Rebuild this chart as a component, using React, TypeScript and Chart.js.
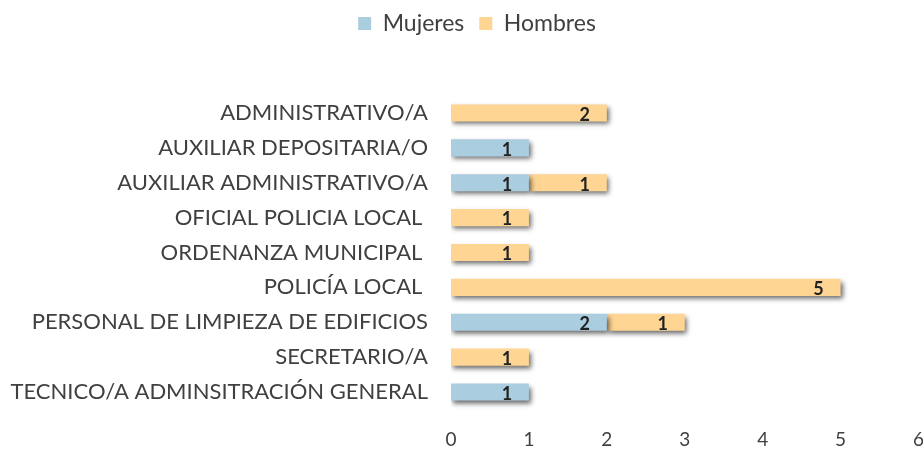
import React, { useEffect, useRef } from "react";
import { Chart, registerables } from "chart.js";

Chart.register(...registerables);

const categories = [
  "ADMINISTRATIVO/A",
  "AUXILIAR DEPOSITARIA/O",
  "AUXILIAR ADMINISTRATIVO/A",
  "OFICIAL POLICIA LOCAL ",
  "ORDENANZA MUNICIPAL ",
  "POLICÍA LOCAL ",
  "PERSONAL DE LIMPIEZA DE EDIFICIOS",
  "SECRETARIO/A",
  "TECNICO/A ADMINSITRACIÓN GENERAL",
];
const mujeres = [null, 1, 1, null, null, null, 2, null, 1];
const hombres = [2, null, 1, 1, 1, 5, 1, 1, null];
const xTicks = [0, 1, 2, 3, 4, 5, 6];

const FONT = "Lato, 'Open Sans', sans-serif";
const TEXT = "#404040";
const W = 943;
const H = 460;

const shadowPlugin = {
  id: "shadowAndLabels",
  beforeLayout(chart: any) {
    const lg = chart.legend;
    if (lg && !lg.__patched) {
      const orig = lg.fit;
      lg.fit = function () {
        orig.call(this);
        this.height = 95.5;
      };
      lg.__patched = true;
    }
  },
  afterLayout(chart: any) {
    const lg = chart.legend;
    if (lg) {
      lg.left += 5.5;
      lg.right += 5.5;
      lg.top -= 3;
    }
  },
  beforeDatasetsDraw(chart: any) {
    const ctx = chart.ctx;
    ctx.save();
    ctx.shadowColor = "rgba(0,0,0,0.6)";
    ctx.shadowBlur = 5;
    ctx.shadowOffsetX = 2;
    ctx.shadowOffsetY = 3;
  },
  afterDatasetsDraw(chart: any) {
    const ctx = chart.ctx;
    ctx.restore();
    ctx.save();
    ctx.font = `bold 18px ${FONT}`;
    ctx.fillStyle = "#222";
    ctx.textAlign = "center";
    ctx.textBaseline = "middle";
    chart.data.datasets.forEach((ds: any, di: number) => {
      const meta = chart.getDatasetMeta(di);
      meta.data.forEach((bar: any, i: number) => {
        const v = ds.data[i];
        if (v == null || v === 0) return;
        ctx.fillText(String(v), bar.x - 22, bar.y + 2);
      });
    });
    ctx.restore();
  },
};

export default function App() {
  const ref = useRef<HTMLCanvasElement>(null);
  useEffect(() => {
    if (!ref.current) return;
    const chart = new Chart(ref.current, {
      type: "bar",
      data: {
        labels: categories,
        datasets: [
          {
            label: "Mujeres",
            data: mujeres as any,
            backgroundColor: "#abcde0",
            barPercentage: 0.49,
            categoryPercentage: 1,
          },
          {
            label: "Hombres",
            data: hombres as any,
            backgroundColor: "#fed593",
            barPercentage: 0.49,
            categoryPercentage: 1,
          },
        ],
      },
      options: {
        indexAxis: "y",
        animation: false,
        responsive: false,
        maintainAspectRatio: false,
        layout: { padding: 0 },
        plugins: {
          legend: {
            position: "top",
            align: "center",
            labels: {
              boxWidth: 13,
              boxHeight: 13,
              color: TEXT,
              font: { family: FONT, size: 23 },
              padding: 15,
            },
          },
          tooltip: { enabled: false },
        },
        scales: {
          x: {
            stacked: true,
            min: 0,
            max: 6,
            afterBuildTicks: (s: any) => {
              s.ticks = xTicks.map((v) => ({ value: v }));
            },
            grid: { display: false, drawTicks: false },
            border: { display: false },
            ticks: {
              color: TEXT,
              font: { family: FONT, size: 19 },
              padding: 19,
              maxRotation: 0,
            },
            afterFit: (s: any) => {
              s.height = H - 409.5;
            },
          },
          y: {
            stacked: true,
            grid: { display: false, drawTicks: false },
            border: { display: false },
            ticks: {
              color: TEXT,
              font: { family: FONT, size: 22 },
              padding: 23,
              autoSkip: false,
            },
            afterFit: (s: any) => {
              s.width = 451;
            },
          },
        },
      },
      plugins: [shadowPlugin],
    });
    return () => chart.destroy();
  }, []);
  return (
    <div style={{ position: "fixed", left: 0, top: 0, width: 923, height: 450, overflow: "hidden", background: "#fff" }}>
      <div style={{ width: W, height: H }}>
        <canvas ref={ref} width={W} height={H} style={{ display: "block", width: W, height: H }} />
      </div>
    </div>
  );
}
